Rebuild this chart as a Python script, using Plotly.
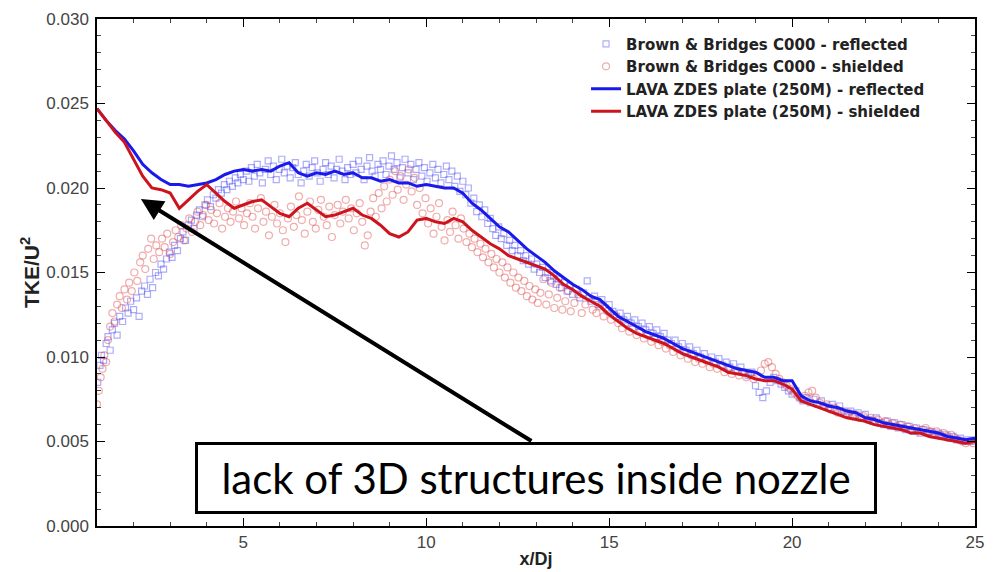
import plotly.graph_objects as go

# ---------------- data ----------------
X_LAVA = [1.0, 1.25, 1.5, 1.75, 2.0, 2.25, 2.5, 2.75, 3.0, 3.25, 3.5, 3.75, 4.0, 4.25, 4.5, 4.75,
          5.0, 5.25, 5.5, 5.75, 6.0, 6.25, 6.5, 6.75, 7.0, 7.25, 7.5, 7.75, 8.0, 8.25, 8.5, 8.75,
          9.0, 9.25, 9.5, 9.75, 10.0, 10.25, 10.5, 10.75, 11.0, 11.25, 11.5, 11.75, 12.0, 12.25, 12.5, 12.75,
          13.0, 13.25, 13.5, 13.75, 14.0, 14.25, 14.5, 14.75, 15.0, 15.25, 15.5, 15.75, 16.0, 16.25, 16.5, 16.75,
          17.0, 17.25, 17.5, 17.75, 18.0, 18.25, 18.5, 18.75, 19.0, 19.25, 19.5, 19.75, 20.0, 20.25, 20.5, 20.75,
          21.0, 21.25, 21.5, 21.75, 22.0, 22.25, 22.5, 22.75, 23.0, 23.25, 23.5, 23.75, 24.0, 24.25, 24.5, 24.75, 25.0]

LAVA_REFLECTED = [0.0247, 0.0240, 0.0234, 0.0229, 0.0222, 0.0214, 0.0209, 0.0205, 0.0202, 0.0202, 0.0201, 0.0202, 0.0203, 0.0205, 0.0208, 0.0210,
                  0.0211, 0.0210, 0.0211, 0.0210, 0.0213, 0.0215, 0.0209, 0.0207, 0.0209, 0.0208, 0.0210, 0.0208, 0.0209, 0.0206, 0.0206, 0.0204,
                  0.0205, 0.0203, 0.0203, 0.0201, 0.0202, 0.0201, 0.0200, 0.0200, 0.0197, 0.0191, 0.0187, 0.0182, 0.0177, 0.0174, 0.0169, 0.0164,
                  0.0160, 0.0156, 0.0151, 0.0147, 0.0143, 0.0140, 0.0136, 0.0134, 0.0129, 0.0124, 0.0121, 0.0118, 0.0115, 0.0113, 0.0111, 0.0108,
                  0.0105, 0.0103, 0.0101, 0.0099, 0.0097, 0.0095, 0.0093, 0.0092, 0.0091, 0.0088, 0.0088, 0.0086, 0.0086, 0.0077, 0.0074, 0.0073,
                  0.0071, 0.0070, 0.0068, 0.0067, 0.0064, 0.0063, 0.0061, 0.0060, 0.0059, 0.0058, 0.0057, 0.0056, 0.0055, 0.0053, 0.0052, 0.0051, 0.0052]

LAVA_SHIELDED = [0.0247, 0.0240, 0.0233, 0.0227, 0.0217, 0.0207, 0.0200, 0.0199, 0.0197, 0.0188, 0.0193, 0.0198, 0.0202, 0.0197, 0.0192, 0.0188,
                 0.0190, 0.0192, 0.0193, 0.0189, 0.0185, 0.0183, 0.0188, 0.0191, 0.0187, 0.0183, 0.0184, 0.0186, 0.0188, 0.0184, 0.0182, 0.0178,
                 0.0173, 0.0171, 0.0174, 0.0181, 0.0182, 0.0180, 0.0179, 0.0182, 0.0180, 0.0175, 0.0171, 0.0167, 0.0164, 0.0160, 0.0158, 0.0156,
                 0.0154, 0.0152, 0.0148, 0.0143, 0.0140, 0.0136, 0.0133, 0.0130, 0.0125, 0.0121, 0.0117, 0.0114, 0.0112, 0.0110, 0.0108, 0.0105,
                 0.0102, 0.0100, 0.0098, 0.0096, 0.0094, 0.0091, 0.0090, 0.0089, 0.0087, 0.0086, 0.0086, 0.0084, 0.0081, 0.0074, 0.0072, 0.0070,
                 0.0068, 0.0066, 0.0064, 0.0063, 0.0062, 0.0060, 0.0059, 0.0058, 0.0057, 0.0055, 0.0055, 0.0053, 0.0052, 0.0051, 0.0050, 0.0049, 0.0050]

EXP_REFLECTED = [
    (1.02, 0.0085), (1.08, 0.0095), (1.12, 0.0101), (1.18, 0.0098), (1.25, 0.0108), (1.30, 0.0112), (1.36, 0.0104), (1.42, 0.0116),
    (1.48, 0.0120), (1.55, 0.0113), (1.62, 0.0124), (1.70, 0.0121), (1.78, 0.0129), (1.85, 0.0126), (1.92, 0.0133), (2.00, 0.0128),
    (2.08, 0.0135), (2.15, 0.0124), (2.22, 0.0139), (2.30, 0.0142), (2.38, 0.0137), (2.45, 0.0146), (2.52, 0.0141), (2.60, 0.0150),
    (2.68, 0.0148), (2.75, 0.0155), (2.82, 0.0152), (2.90, 0.0158), (2.98, 0.0162), (3.05, 0.0159), (3.12, 0.0166), (3.20, 0.0163),
    (3.28, 0.0170), (3.35, 0.0174), (3.42, 0.0169), (3.50, 0.0178), (3.58, 0.0181), (3.65, 0.0176), (3.72, 0.0184), (3.80, 0.0187),
    (3.88, 0.0183), (3.95, 0.0190), (4.02, 0.0193), (4.10, 0.0189), (4.18, 0.0196), (4.25, 0.0194), (4.32, 0.0199), (4.40, 0.0197),
    (4.48, 0.0202), (4.55, 0.0199), (4.62, 0.0204), (4.70, 0.0201), (4.78, 0.0206), (4.85, 0.0203), (4.92, 0.0208), (5.00, 0.0205),
    (5.08, 0.0210), (5.15, 0.0204), (5.22, 0.0212), (5.30, 0.0207), (5.38, 0.0214), (5.45, 0.0209), (5.52, 0.0203), (5.60, 0.0211),
    (5.68, 0.0216), (5.75, 0.0208), (5.82, 0.0213), (5.90, 0.0205), (5.98, 0.0211), (6.05, 0.0217), (6.12, 0.0209), (6.20, 0.0213),
    (6.28, 0.0206), (6.35, 0.0212), (6.42, 0.0215), (6.50, 0.0208), (6.58, 0.0203), (6.65, 0.0210), (6.72, 0.0214), (6.80, 0.0207),
    (6.88, 0.0212), (6.95, 0.0216), (7.02, 0.0209), (7.10, 0.0204), (7.18, 0.0211), (7.25, 0.0215), (7.32, 0.0208), (7.40, 0.0213),
    (7.48, 0.0206), (7.55, 0.0211), (7.62, 0.0217), (7.70, 0.0210), (7.78, 0.0205), (7.85, 0.0212), (7.92, 0.0208), (8.00, 0.0214),
    (8.08, 0.0209), (8.15, 0.0216), (8.22, 0.0211), (8.30, 0.0205), (8.38, 0.0213), (8.45, 0.0218), (8.52, 0.0210), (8.60, 0.0207),
    (8.68, 0.0214), (8.75, 0.0211), (8.82, 0.0216), (8.90, 0.0208), (8.98, 0.0213), (9.05, 0.0219), (9.12, 0.0211), (9.20, 0.0215),
    (9.28, 0.0206), (9.35, 0.0212), (9.42, 0.0217), (9.50, 0.0209), (9.58, 0.0214), (9.65, 0.0205), (9.72, 0.0211), (9.80, 0.0215),
    (9.88, 0.0207), (9.95, 0.0212), (10.02, 0.0204), (10.10, 0.0209), (10.18, 0.0214), (10.25, 0.0206), (10.32, 0.0211), (10.40, 0.0203),
    (10.48, 0.0208), (10.55, 0.0213), (10.62, 0.0205), (10.70, 0.0210), (10.78, 0.0201), (10.85, 0.0207), (10.92, 0.0198), (11.00, 0.0204),
    (11.08, 0.0196), (11.15, 0.0200), (11.22, 0.0191), (11.30, 0.0194), (11.38, 0.0186), (11.45, 0.0190), (11.52, 0.0183), (11.60, 0.0187),
    (11.68, 0.0179), (11.75, 0.0182), (11.82, 0.0176), (11.90, 0.0172), (11.98, 0.0177), (12.05, 0.0170), (12.12, 0.0173), (12.20, 0.0166),
    (12.28, 0.0169), (12.35, 0.0163), (12.42, 0.0166), (12.50, 0.0160), (12.58, 0.0163), (12.65, 0.0157), (12.72, 0.0160), (12.80, 0.0155),
    (12.88, 0.0158), (12.95, 0.0152), (13.02, 0.0155), (13.10, 0.0150), (13.18, 0.0153), (13.25, 0.0147), (13.32, 0.0150), (13.40, 0.0145),
    (13.48, 0.0148), (13.55, 0.0143), (13.62, 0.0146), (13.70, 0.0141), (13.78, 0.0144), (13.85, 0.0139), (13.92, 0.0142), (14.00, 0.0137),
    (14.10, 0.0140), (14.20, 0.0135), (14.30, 0.0138), (14.40, 0.0145), (14.50, 0.0133), (14.60, 0.0136), (14.70, 0.0131), (14.80, 0.0134),
    (14.90, 0.0129), (15.00, 0.0131), (15.10, 0.0127), (15.20, 0.0124), (15.30, 0.0126), (15.40, 0.0122), (15.50, 0.0124), (15.60, 0.0120),
    (15.70, 0.0122), (15.80, 0.0118), (15.90, 0.0120), (16.00, 0.0116), (16.10, 0.0118), (16.20, 0.0114), (16.30, 0.0116), (16.40, 0.0112),
    (16.50, 0.0114), (16.60, 0.0110), (16.70, 0.0108), (16.80, 0.0110), (16.90, 0.0106), (17.00, 0.0108), (17.10, 0.0104), (17.20, 0.0106),
    (17.30, 0.0102), (17.40, 0.0104), (17.50, 0.0100), (17.60, 0.0102), (17.70, 0.0098), (17.80, 0.0100), (17.90, 0.0097), (18.00, 0.0099),
    (18.10, 0.0095), (18.20, 0.0097), (18.30, 0.0094), (18.40, 0.0096), (18.50, 0.0092), (18.60, 0.0094), (18.70, 0.0091), (18.80, 0.0089),
    (18.90, 0.0091), (19.00, 0.0083), (19.10, 0.0079), (19.20, 0.0076), (19.30, 0.0080), (19.40, 0.0085), (19.50, 0.0088), (19.60, 0.0086),
    (19.70, 0.0084), (19.80, 0.0082), (19.90, 0.0080), (20.00, 0.0078), (20.10, 0.0080), (20.20, 0.0076), (20.30, 0.0074), (20.40, 0.0076),
    (20.50, 0.0073), (20.60, 0.0075), (20.70, 0.0072), (20.80, 0.0074), (20.90, 0.0071), (21.00, 0.0070), (21.10, 0.0072), (21.20, 0.0069),
    (21.30, 0.0071), (21.40, 0.0068), (21.50, 0.0066), (21.60, 0.0068), (21.70, 0.0065), (21.80, 0.0067), (21.90, 0.0064), (22.00, 0.0066),
    (22.10, 0.0063), (22.20, 0.0062), (22.30, 0.0064), (22.40, 0.0061), (22.50, 0.0060), (22.60, 0.0062), (22.70, 0.0059), (22.80, 0.0061),
    (22.90, 0.0058), (23.00, 0.0060), (23.10, 0.0057), (23.20, 0.0059), (23.30, 0.0056), (23.40, 0.0058), (23.50, 0.0055), (23.60, 0.0057),
    (23.70, 0.0055), (23.80, 0.0056), (23.90, 0.0054), (24.00, 0.0055), (24.10, 0.0053), (24.20, 0.0054), (24.30, 0.0052), (24.40, 0.0053),
    (24.50, 0.0051), (24.60, 0.0052), (24.70, 0.0050), (24.80, 0.0051), (24.90, 0.0050), (25.00, 0.0051)]

EXP_SHIELDED = [
    (1.00, 0.0072), (1.05, 0.0080), (1.10, 0.0088), (1.15, 0.0093), (1.20, 0.0101), (1.25, 0.0097), (1.30, 0.0110), (1.36, 0.0118),
    (1.42, 0.0126), (1.48, 0.0121), (1.55, 0.0131), (1.62, 0.0136), (1.68, 0.0129), (1.75, 0.0140), (1.82, 0.0134), (1.88, 0.0144),
    (1.95, 0.0139), (2.02, 0.0150), (2.10, 0.0145), (2.18, 0.0156), (2.25, 0.0160), (2.32, 0.0152), (2.40, 0.0164), (2.48, 0.0170),
    (2.55, 0.0158), (2.62, 0.0166), (2.70, 0.0162), (2.78, 0.0170), (2.85, 0.0165), (2.92, 0.0173), (3.00, 0.0161), (3.08, 0.0168),
    (3.15, 0.0175), (3.22, 0.0171), (3.30, 0.0178), (3.38, 0.0169), (3.45, 0.0176), (3.52, 0.0182), (3.60, 0.0174), (3.68, 0.0180),
    (3.75, 0.0186), (3.82, 0.0178), (3.90, 0.0184), (3.98, 0.0190), (4.05, 0.0181), (4.12, 0.0187), (4.20, 0.0179), (4.28, 0.0185),
    (4.35, 0.0191), (4.42, 0.0176), (4.50, 0.0183), (4.58, 0.0188), (4.65, 0.0180), (4.72, 0.0186), (4.80, 0.0192), (4.88, 0.0182),
    (4.95, 0.0188), (5.02, 0.0178), (5.10, 0.0185), (5.18, 0.0191), (5.25, 0.0183), (5.32, 0.0176), (5.40, 0.0188), (5.48, 0.0194),
    (5.55, 0.0180), (5.62, 0.0186), (5.70, 0.0172), (5.78, 0.0183), (5.85, 0.0190), (5.92, 0.0179), (6.00, 0.0185), (6.08, 0.0175),
    (6.15, 0.0168), (6.22, 0.0182), (6.30, 0.0189), (6.38, 0.0177), (6.45, 0.0184), (6.52, 0.0195), (6.60, 0.0181), (6.68, 0.0173),
    (6.75, 0.0186), (6.82, 0.0192), (6.90, 0.0180), (6.98, 0.0176), (7.05, 0.0187), (7.12, 0.0193), (7.20, 0.0183), (7.28, 0.0178),
    (7.35, 0.0189), (7.42, 0.0171), (7.50, 0.0184), (7.58, 0.0190), (7.65, 0.0179), (7.72, 0.0186), (7.80, 0.0193), (7.88, 0.0182),
    (7.95, 0.0188), (8.02, 0.0175), (8.10, 0.0185), (8.18, 0.0191), (8.25, 0.0180), (8.32, 0.0166), (8.40, 0.0172), (8.48, 0.0186),
    (8.55, 0.0194), (8.62, 0.0183), (8.70, 0.0197), (8.78, 0.0188), (8.85, 0.0201), (8.92, 0.0192), (9.00, 0.0205), (9.08, 0.0196),
    (9.15, 0.0210), (9.22, 0.0199), (9.30, 0.0207), (9.38, 0.0193), (9.45, 0.0202), (9.52, 0.0211), (9.60, 0.0198), (9.68, 0.0206),
    (9.75, 0.0190), (9.82, 0.0200), (9.90, 0.0185), (9.98, 0.0194), (10.05, 0.0179), (10.12, 0.0188), (10.20, 0.0173), (10.28, 0.0183),
    (10.35, 0.0191), (10.42, 0.0177), (10.50, 0.0169), (10.58, 0.0181), (10.65, 0.0174), (10.72, 0.0186), (10.80, 0.0178), (10.88, 0.0170),
    (10.95, 0.0182), (11.02, 0.0176), (11.10, 0.0168), (11.18, 0.0173), (11.25, 0.0165), (11.32, 0.0170), (11.40, 0.0162), (11.48, 0.0167),
    (11.55, 0.0159), (11.62, 0.0164), (11.70, 0.0156), (11.78, 0.0161), (11.85, 0.0153), (11.92, 0.0158), (12.00, 0.0150), (12.08, 0.0156),
    (12.15, 0.0147), (12.22, 0.0153), (12.30, 0.0144), (12.38, 0.0150), (12.45, 0.0141), (12.52, 0.0147), (12.60, 0.0139), (12.68, 0.0145),
    (12.75, 0.0136), (12.82, 0.0142), (12.90, 0.0134), (12.98, 0.0140), (13.05, 0.0132), (13.12, 0.0138), (13.20, 0.0146), (13.28, 0.0131),
    (13.35, 0.0137), (13.42, 0.0144), (13.50, 0.0129), (13.58, 0.0135), (13.65, 0.0141), (13.72, 0.0128), (13.80, 0.0133), (13.88, 0.0139),
    (13.95, 0.0127), (14.05, 0.0132), (14.15, 0.0137), (14.25, 0.0126), (14.35, 0.0131), (14.45, 0.0135), (14.55, 0.0128), (14.65, 0.0126),
    (14.75, 0.0130), (14.85, 0.0124), (14.95, 0.0127), (15.05, 0.0122), (15.15, 0.0125), (15.25, 0.0120), (15.35, 0.0117), (15.45, 0.0120),
    (15.55, 0.0115), (15.65, 0.0117), (15.75, 0.0113), (15.85, 0.0115), (15.95, 0.0111), (16.05, 0.0113), (16.15, 0.0109), (16.25, 0.0111),
    (16.35, 0.0107), (16.45, 0.0109), (16.55, 0.0105), (16.65, 0.0107), (16.75, 0.0103), (16.85, 0.0105), (16.95, 0.0101), (17.05, 0.0103),
    (17.15, 0.0099), (17.25, 0.0101), (17.35, 0.0097), (17.45, 0.0099), (17.55, 0.0096), (17.65, 0.0098), (17.75, 0.0094), (17.85, 0.0096),
    (17.95, 0.0093), (18.05, 0.0095), (18.15, 0.0091), (18.25, 0.0093), (18.35, 0.0090), (18.45, 0.0092), (18.55, 0.0089), (18.65, 0.0091),
    (18.75, 0.0088), (18.85, 0.0090), (18.95, 0.0087), (19.05, 0.0089), (19.15, 0.0092), (19.25, 0.0096), (19.35, 0.0097), (19.45, 0.0094),
    (19.55, 0.0090), (19.65, 0.0087), (19.75, 0.0085), (19.85, 0.0083), (19.95, 0.0081), (20.05, 0.0079), (20.15, 0.0077), (20.25, 0.0075),
    (20.35, 0.0077), (20.45, 0.0079), (20.55, 0.0080), (20.65, 0.0076), (20.75, 0.0073), (20.85, 0.0071), (20.95, 0.0072), (21.05, 0.0069),
    (21.15, 0.0070), (21.25, 0.0067), (21.35, 0.0068), (21.45, 0.0066), (21.55, 0.0067), (21.65, 0.0065), (21.75, 0.0066), (21.85, 0.0064),
    (21.95, 0.0065), (22.05, 0.0063), (22.15, 0.0064), (22.25, 0.0062), (22.35, 0.0063), (22.45, 0.0061), (22.55, 0.0062), (22.65, 0.0060),
    (22.75, 0.0061), (22.85, 0.0059), (22.95, 0.0060), (23.05, 0.0058), (23.15, 0.0059), (23.25, 0.0057), (23.35, 0.0058), (23.45, 0.0056),
    (23.55, 0.0057), (23.65, 0.0058), (23.75, 0.0056), (23.85, 0.0055), (23.95, 0.0056), (24.05, 0.0054), (24.15, 0.0055), (24.25, 0.0053),
    (24.35, 0.0054), (24.45, 0.0052), (24.55, 0.0051), (24.65, 0.0050), (24.75, 0.0049), (24.85, 0.0050), (24.95, 0.0049)]

NAMES = ["Brown & Bridges C000 - reflected", "Brown & Bridges C000 - shielded",
         "LAVA ZDES plate (250M) - reflected", "LAVA ZDES plate (250M) - shielded"]
Y_TICKS = [0.000, 0.005, 0.010, 0.015, 0.020, 0.025, 0.030]
X_TICKS = [5, 10, 15, 20, 25]
ANNOT_TEXT = "lack of 3D structures inside nozzle"

BLUE = "rgb(25,25,235)"
RED = "rgb(205,20,30)"
SANS = "Liberation Sans, Arial, sans-serif"

fig = go.Figure()
fig.add_trace(go.Scatter(
    x=[p[0] for p in EXP_REFLECTED], y=[p[1] for p in EXP_REFLECTED], mode="markers", name=NAMES[0],
    marker=dict(symbol="square-open", size=6, color="rgba(60,60,240,0.42)", line=dict(width=1.2))))
fig.add_trace(go.Scatter(
    x=[p[0] for p in EXP_SHIELDED], y=[p[1] for p in EXP_SHIELDED], mode="markers", name=NAMES[1],
    marker=dict(symbol="circle-open", size=7, color="rgba(220,60,60,0.42)", line=dict(width=1.2))))
fig.add_trace(go.Scatter(x=X_LAVA, y=LAVA_REFLECTED, mode="lines", name=NAMES[2],
                         line=dict(color=BLUE, width=3)))
fig.add_trace(go.Scatter(x=X_LAVA, y=LAVA_SHIELDED, mode="lines", name=NAMES[3],
                         line=dict(color=RED, width=3)))

axis_common = dict(
    showline=True, linecolor="black", linewidth=1.5, mirror="allticks",
    ticks="inside", ticklen=8, tickwidth=1.3, tickcolor="black",
    showgrid=False, zeroline=False, automargin=False,
    tickfont=dict(family=SANS, size=17, color="#444"),
)

fig.update_xaxes(range=[1, 25], tickvals=X_TICKS, ticklabelstandoff=0, **axis_common,
                 minor=dict(ticks="inside", ticklen=4, dtick=1, tickcolor="#444", tick0=0),
                 title=dict(text="<b>x/Dj</b>", standoff=1,
                            font=dict(family=SANS, size=18, color="#222")))
fig.update_yaxes(range=[0, 0.03], tickvals=Y_TICKS, tickformat=".3f", ticklabelstandoff=3, **axis_common,
                 minor=dict(ticks="inside", ticklen=4, dtick=0.001, tickcolor="#444", tick0=0),
                 title=dict(text="<b>TKE/U<sup>2</sup></b>", standoff=1,
                            font=dict(family=SANS, size=21, color="#222")))

fig.add_annotation(x=2.2, y=0.01935, xref="x", yref="y", text="", showarrow=True,
                   ax=392, ay=243, arrowhead=2, arrowsize=1.1, arrowwidth=4, arrowcolor="black")
fig.add_annotation(x=0.5, y=(526 - 478) / 507, xref="paper", yref="paper", text=ANNOT_TEXT,
                   showarrow=False, xanchor="center", yanchor="middle",
                   font=dict(family="Lato", size=42, color="black"),
                   bgcolor="white", bordercolor="black", borderwidth=3,
                   width=674, height=64)

fig.update_layout(
    width=997, height=572,
    margin=dict(l=97, r=22, t=19, b=46),
    paper_bgcolor="white", plot_bgcolor="white",
    legend=dict(x=0.557, y=0.983, xanchor="left", yanchor="top", bgcolor="rgba(0,0,0,0)",
                font=dict(family="DejaVu Sans", size=15, color="#222", weight="bold"),
                tracegroupgap=0, itemwidth=30),
    showlegend=True,
)

fig.write_html("out.html", config={"displayModeBar": False},
               post_script="document.body.style.margin='0';document.body.style.overflow='hidden';")
